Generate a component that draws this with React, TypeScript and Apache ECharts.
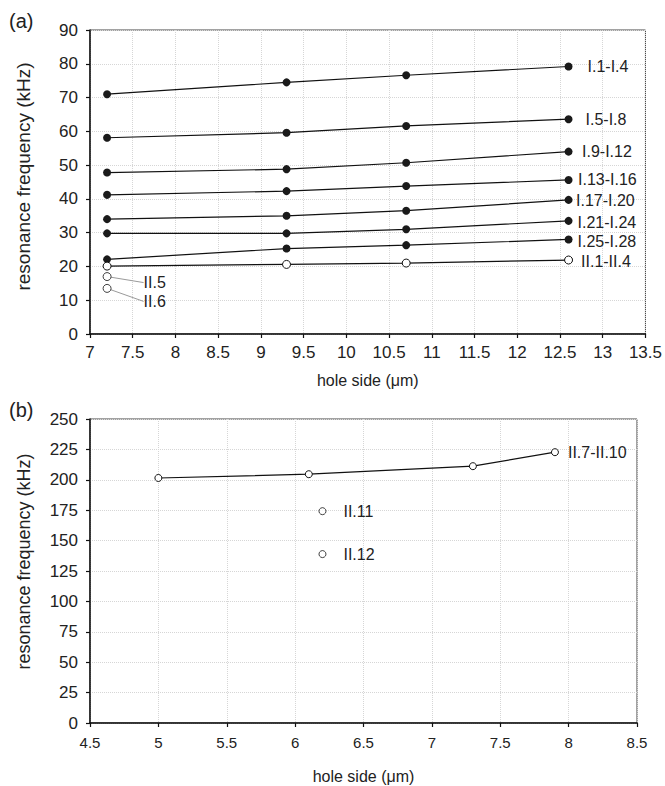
import React, { useEffect, useRef } from "react";
import * as echarts from "echarts";

// ---- data (panel a) ----
const holeSidesA = [7.2, 9.3, 10.7, 12.6];
const seriesNamesA = ["I.1-I.4", "I.5-I.8", "I.9-I.12", "I.13-I.16", "I.17-I.20", "I.21-I.24", "I.25-I.28", "II.1-II.4"];
const valuesI1 = [71.0, 74.5, 76.6, 79.2];
const valuesI5 = [58.1, 59.6, 61.6, 63.6];
const valuesI9 = [47.8, 48.8, 50.7, 54.0];
const valuesI13 = [41.2, 42.3, 43.8, 45.6];
const valuesI17 = [34.0, 35.0, 36.5, 39.7];
const valuesI21 = [29.8, 29.8, 31.0, 33.5];
const valuesI25 = [22.1, 25.3, 26.3, 28.0];
const valuesII1 = [20.1, 20.6, 21.0, 21.9];
const seriesValuesA = [valuesI1, valuesI5, valuesI9, valuesI13, valuesI17, valuesI21, valuesI25, valuesII1];
const singleNamesA = ["II.5", "II.6"];
const singleXA = [7.2, 7.2];
const singleYA = [17.0, 13.5];

// ---- data (panel b) ----
const holeSidesB = [5, 6.1, 7.3, 7.9];
const valuesII7 = [201.5, 204.6, 211.2, 222.7];
const singleNamesB = ["II.11", "II.12"];
const singleXB = [6.2, 6.2];
const singleYB = [174.2, 138.9];

// ---- styles ----
const FONT = "'Liberation Sans', Arial, Helvetica, sans-serif";
const labelDistA = [15, 13, 9.5, 5.5, 3.5, 5, 5, 8];
const labelOffsetA = [0, 0, 0, 0, 1, 2, 2, 1];
const leaderDy = [6, 13];

export default function App() {
  const ref = useRef<HTMLDivElement>(null);

  useEffect(() => {
    document.body.style.margin = "0";
    const chart = echarts.init(ref.current!, null, { renderer: "svg" });

    const axisCommon = {
      axisLine: { show: true, onZero: false, lineStyle: { color: "#111", width: 1.5 } },
      axisTick: { show: true, inside: false, length: 4, lineStyle: { color: "#111", width: 1.2 } },
      splitLine: { show: true, lineStyle: { color: "#d6d6d6", type: "dotted", width: 1 } },
      nameLocation: "middle",
    };

    const textLabel = {
      fontSize: 16,
      fontFamily: FONT,
      color: "#222",
      opacity: 1,
      textBorderWidth: 0,
    };

    const series: any[] = [];
    seriesValuesA.forEach((vals, i) => {
      const open = seriesNamesA[i].startsWith("II");
      series.push({
        type: "line",
        name: seriesNamesA[i],
        xAxisIndex: 0,
        yAxisIndex: 0,
        symbol: "circle",
        symbolSize: 8,
        itemStyle: open
          ? { color: "#fff", borderColor: "#111", borderWidth: 1 }
          : { color: "#1a1a1a", borderColor: "#1a1a1a", borderWidth: 0 },
        lineStyle: { color: "#111", width: 1.2 },
        z: open ? 3 : 2,
        data: vals.map((v, j) => {
          const item: any = { value: [holeSidesA[j], v] };
          if (j === vals.length - 1) {
            item.label = {
              ...textLabel,
              show: true,
              position: "right",
              distance: labelDistA[i],
              offset: [0, labelOffsetA[i]],
              formatter: seriesNamesA[i],
            };
          }
          return item;
        }),
      });
    });

    series.push({
      type: "scatter",
      name: "II.5-II.6",
      xAxisIndex: 0,
      yAxisIndex: 0,
      symbol: "circle",
      symbolSize: 8,
      itemStyle: { color: "#fff", borderColor: "#111", borderWidth: 1 },
      z: 3,
      label: {
        ...textLabel,
        show: true,
        position: "right",
        distance: 4,
        formatter: (p: any) => singleNamesA[p.dataIndex],
      },
      labelLayout: (p: any) => ({ dx: 28, dy: leaderDy[p.dataIndex] }),
      labelLine: { show: true, length2: 0, lineStyle: { color: "#9a9a9a", width: 1 } },
      data: singleXA.map((x, k) => [x, singleYA[k]]),
    });

    series.push({
      type: "line",
      name: "II.7-II.10",
      xAxisIndex: 1,
      yAxisIndex: 1,
      symbol: "circle",
      symbolSize: 7,
      itemStyle: { color: "#fff", borderColor: "#111", borderWidth: 1 },
      lineStyle: { color: "#111", width: 1.2 },
      data: valuesII7.map((v, j) => {
        const item: any = { value: [holeSidesB[j], v] };
        if (j === valuesII7.length - 1) {
          item.label = {
            ...textLabel,
            show: true,
            position: "right",
            distance: 9,
            formatter: "II.7-II.10",
          };
        }
        return item;
      }),
    });

    series.push({
      type: "scatter",
      name: "II.11-II.12",
      xAxisIndex: 1,
      yAxisIndex: 1,
      symbol: "circle",
      symbolSize: 7,
      itemStyle: { color: "#fff", borderColor: "#111", borderWidth: 1 },
      label: {
        ...textLabel,
        show: true,
        position: "right",
        distance: 17,
        formatter: (p: any) => singleNamesB[p.dataIndex],
      },
      data: singleXB.map((x, k) => [x, singleYB[k]]),
    });

    const option: any = {
      animation: false,
      backgroundColor: "#fff",
      textStyle: { fontFamily: FONT },
      grid: [
        { left: 90, top: 30, width: 556, height: 304, show: true, borderColor: "#444", borderWidth: 1, backgroundColor: "transparent" },
        { left: 90, top: 419, width: 547, height: 304, show: true, borderColor: "#444", borderWidth: 1, backgroundColor: "transparent" },
      ],
      xAxis: [
        {
          ...axisCommon,
          type: "value",
          gridIndex: 0,
          min: 7,
          max: 13.5,
          interval: 0.5,
          name: "hole side (\u03bcm)",
          nameGap: 38,
          nameTextStyle: { fontSize: 16, color: "#222", fontFamily: FONT },
          axisLabel: { fontSize: 17, color: "#222", margin: 10, fontFamily: FONT },
        },
        {
          ...axisCommon,
          type: "value",
          gridIndex: 1,
          min: 4.5,
          max: 8.5,
          interval: 0.5,
          name: "hole side (\u03bcm)",
          nameGap: 45,
          nameTextStyle: { fontSize: 16, color: "#222", fontFamily: FONT },
          axisLabel: { fontSize: 15, color: "#222", margin: 12, fontFamily: FONT },
        },
      ],
      yAxis: [
        {
          ...axisCommon,
          type: "value",
          gridIndex: 0,
          min: 0,
          max: 90,
          interval: 10,
          name: "resonance frequency (kHz)",
          nameGap: 57,
          nameTextStyle: { fontSize: 19, color: "#222", fontFamily: FONT, padding: [0, 0, 0, 11] },
          axisLabel: { fontSize: 17, color: "#222", margin: 12, fontFamily: FONT },
        },
        {
          ...axisCommon,
          type: "value",
          gridIndex: 1,
          min: 0,
          max: 250,
          interval: 25,
          name: "resonance frequency (kHz)",
          nameGap: 57,
          nameTextStyle: { fontSize: 18, color: "#222", fontFamily: FONT, padding: [0, 0, 0, 19] },
          axisLabel: { fontSize: 17, color: "#222", margin: 12, fontFamily: FONT },
        },
      ],
      graphic: [
        { type: "text", left: 9, top: 11, style: { text: "(a)", fontSize: 20, fontFamily: FONT, fill: "#222" } },
        { type: "text", left: 9, top: 400, style: { text: "(b)", fontSize: 20, fontFamily: FONT, fill: "#222" } },
      ],
      series,
    };

    chart.setOption(option);
    return () => chart.dispose();
  }, []);

  return (
    <div
      ref={ref}
      style={{ position: "absolute", left: 0, top: 0, width: 665, height: 786, background: "#fff" }}
    />
  );
}
